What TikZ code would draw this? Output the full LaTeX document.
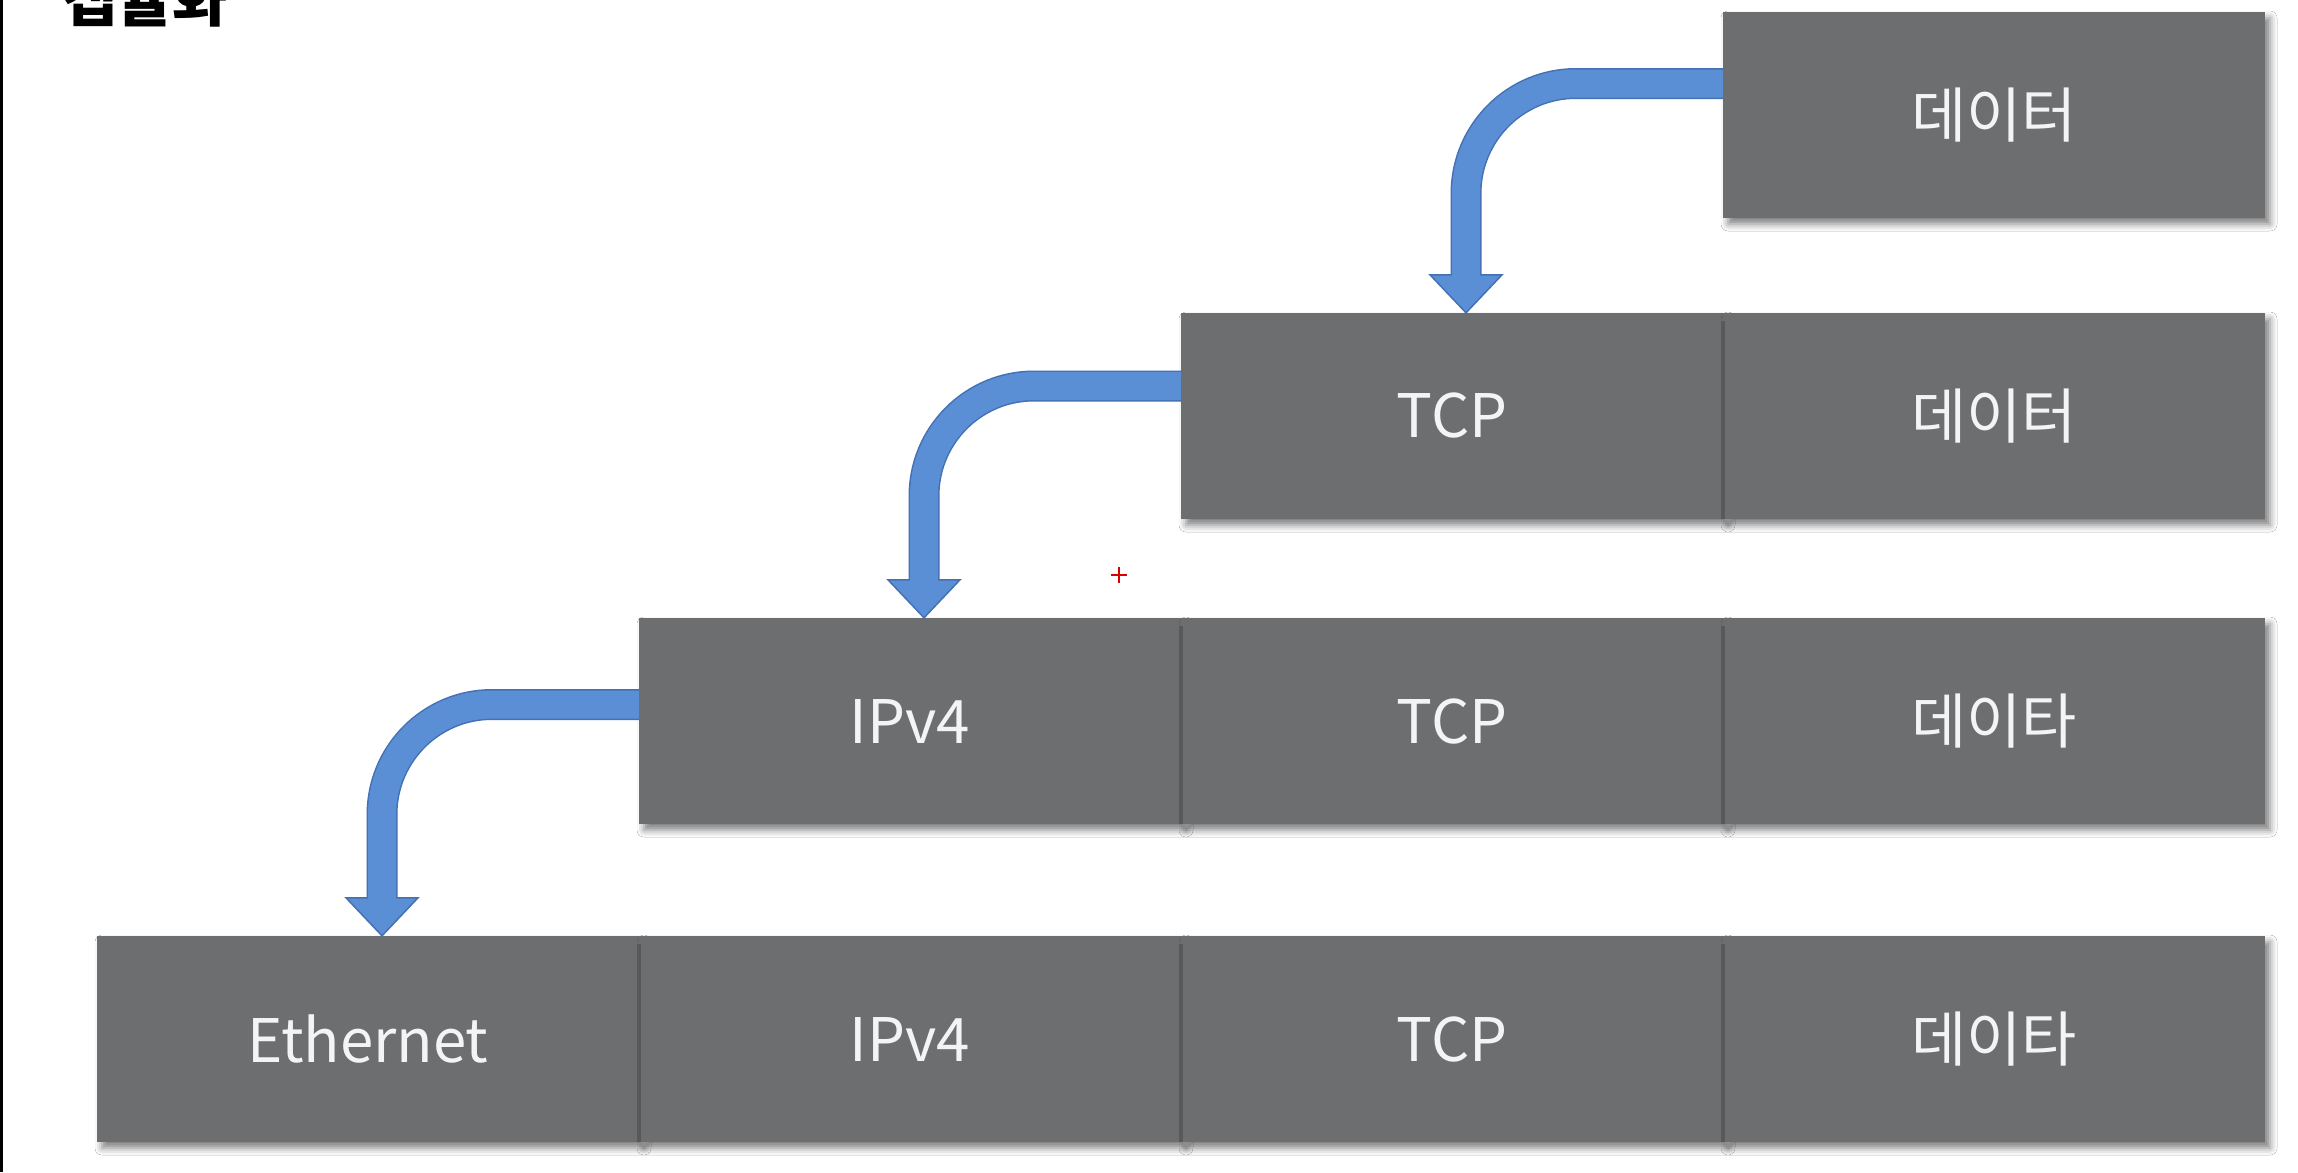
\documentclass[tikz,border=0pt]{standalone}
\usepackage{fontspec}
\setmainfont{Noto Sans CJK KR}
\usetikzlibrary{shadows.blur}
\definecolor{cellgray}{HTML}{6D6E70}
\definecolor{cellline}{HTML}{58595B}
\definecolor{arrowblue}{HTML}{5B8FD5}
\definecolor{arrowedge}{HTML}{4470B4}
\definecolor{celltext}{HTML}{F4F4F4}
\tikzset{
  cell/.style={rectangle, fill=cellgray, minimum width=542pt, minimum height=206pt,
    inner sep=0pt, text=celltext, font=\fontsize{60}{68}\selectfont,
    blur shadow={shadow xshift=5pt, shadow yshift=-6pt, shadow blur radius=7pt, shadow opacity=50}},
  shaftedge/.style={draw=arrowedge, line width=31pt, rounded corners=110pt},
  shaftfill/.style={draw=arrowblue, line width=28pt, rounded corners=110pt},
  headtip/.style={fill=arrowblue, draw=arrowedge, line width=1.5pt, line join=miter},
  divider/.style={draw=cellline, line width=4pt}
}
\begin{document}
\begin{tikzpicture}[x=1pt,y=-1pt]
\useasboundingbox (0,0) rectangle (2298,1172);
\fill[white] (0,0) rectangle (2298,1172);
\fill[black] (0,0) rectangle (3,1172);
% title (cut by the top edge, as in the reference)
\node[anchor=base west, inner sep=0pt, font=\fontsize{60}{64}\selectfont\bfseries] (title) at (62,22) {캡슐화};
% cells
\node[cell] (d1) at (1994,115) {데이터};
\node[cell] (t2) at (1452,416) {TCP};
\node[cell] (d2) at (1994,416) {데이터};
\node[cell] (i3) at (910,721) {IPv4};
\node[cell] (t3) at (1452,721) {TCP};
\node[cell] (d3) at (1994,721) {데이타};
\node[cell] (e4) at (368,1039) {Ethernet};
\node[cell] (i4) at (910,1039) {IPv4};
\node[cell] (t4) at (1452,1039) {TCP};
\node[cell] (d4) at (1994,1039) {데이타};
% dividers (shadow edges between adjacent cells)
\draw[divider] ([yshift=-8pt]t2.north east) -- (t2.south east);
\draw[divider] ([yshift=-8pt]i3.north east) -- (i3.south east);
\draw[divider] ([yshift=-8pt]t3.north east) -- (t3.south east);
\draw[divider] ([yshift=-8pt]e4.north east) -- (e4.south east);
\draw[divider] ([yshift=-8pt]i4.north east) -- (i4.south east);
\draw[divider] ([yshift=-8pt]t4.north east) -- (t4.south east);
% arrows
\foreach \src/\dst/\dy in {d1/t2/31.5, t2/i3/30, i3/e4/16.5}{
  \coordinate (S) at ([yshift=\dy pt]\src.west);
  \coordinate (T) at ([xshift=14pt]\dst.north);
  \draw[shaftedge] (S) -| ([yshift=37pt]T);
  \draw[headtip] ([xshift=-36pt,yshift=38pt]T) -- ([xshift=36pt,yshift=38pt]T) -- (T) -- cycle;
  \draw[shaftfill] (S) -| ([yshift=34pt]T);
}
% red cursor mark
\coordinate (cur) at (1119,575);
\draw[red!85!black, line width=2pt] ([xshift=-8pt]cur) -- ([xshift=8pt]cur);
\draw[red!85!black, line width=2pt] ([yshift=-8pt]cur) -- ([yshift=8pt]cur);
\end{tikzpicture}
\end{document}
